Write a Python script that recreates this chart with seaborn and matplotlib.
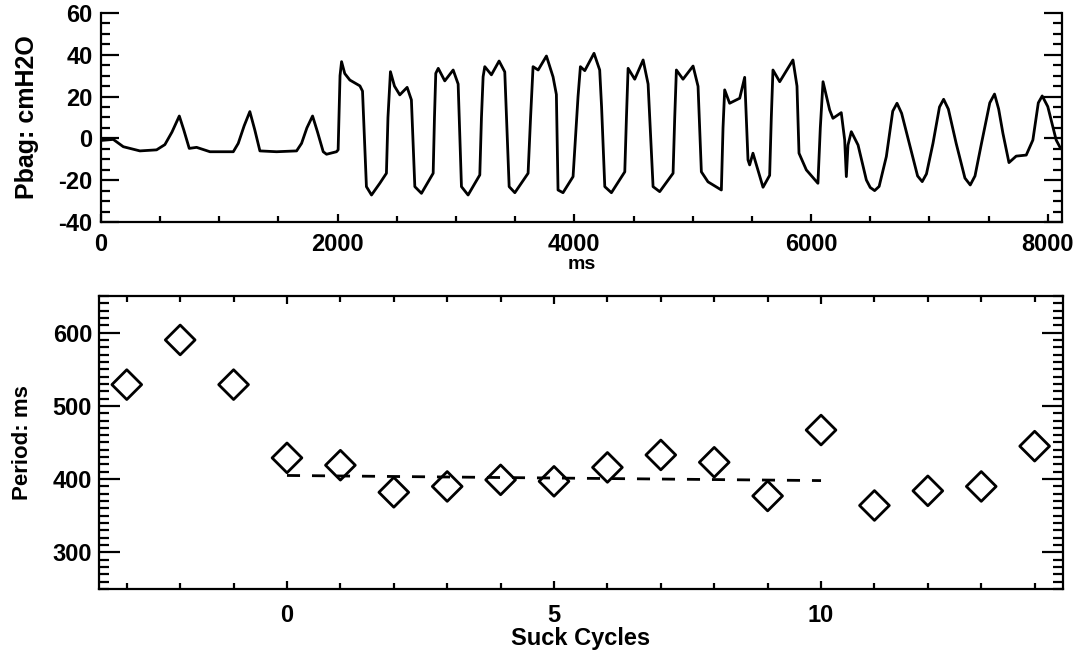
import matplotlib
matplotlib.use("Agg")
import matplotlib.pyplot as plt
import seaborn as sns
from matplotlib.ticker import MultipleLocator

# top panel: bag pressure trace (knots)
t_ms = [0, 104, 189, 329, 470, 540, 600, 662, 700, 746, 808, 921, 1118, 1160, 1210,
        1258, 1300, 1343, 1484, 1653, 1695, 1740, 1788, 1830, 1878, 1906, 1990,
        2004, 2020, 2033, 2060, 2103, 2188, 2210, 2243, 2286, 2356, 2412,
        2425, 2446, 2480, 2525, 2587, 2623, 2652, 2708, 2807,
        2818, 2829, 2850, 2905, 2976, 3018, 3046, 3102, 3201,
        3215, 3229, 3243, 3299, 3364, 3412, 3449, 3497, 3609,
        3630, 3651, 3694, 3764, 3820, 3848, 3862, 3904, 3989,
        4031, 4051, 4088, 4166, 4214, 4230, 4257, 4313, 4426,
        4440, 4454, 4510, 4581, 4623, 4665, 4721, 4834,
        4848, 4862, 4918, 5003, 5045, 5073, 5129, 5242,
        5256, 5270, 5312, 5397, 5439, 5467, 5481, 5509, 5594, 5650,
        5664, 5678, 5735, 5847, 5881, 5898, 5960, 6058,
        6078, 6101, 6157, 6185, 6255, 6284, 6298, 6312, 6340, 6397, 6467,
        6500, 6537, 6575, 6636, 6690, 6726, 6765, 6833, 6900, 6939, 6975,
        7030, 7085, 7120, 7160, 7226, 7300, 7345, 7385, 7437, 7510, 7550,
        7585, 7621, 7672, 7733, 7818, 7874, 7920, 7953, 8000, 8071, 8110]
p_cmh2o = [-1, -0.5, -4, -6, -5.5, -3, 3, 10.7, 4, -4.8, -4.3, -6.4, -6.4, -2.4, 6,
           12.8, 4, -6.0, -6.4, -6, -2.4, 5, 10.7, 3, -6.4, -7.6, -6.4,
           -5.5, 30, 36.7, 31, 27.9, 25.1, 22.6, -23.1, -27.1, -21.5, -16.7,
           10, 31.9, 25, 20.8, 24.4, 18.4, -23.1, -26.3, -16.7,
           10, 31.1, 33.5, 27.5, 32.7, 26, -23.1, -27.1, -17.5,
           10, 29.5, 34.3, 30.4, 37.0, 31.8, -23.1, -26, -16.7,
           10, 34.3, 32.7, 39.4, 29.4, 21, -24.7, -26, -18.3,
           20, 34.3, 32.4, 40.7, 32.7, 15, -23.1, -26, -16,
           10, 33.5, 28.3, 37.5, 26, -23.1, -25.5, -16.7,
           10, 32.7, 28.3, 34.6, 24.9, -16, -20.8, -24.7,
           5, 23.2, 16.8, 19.2, 29.2, -10.3, -12.7, -7.1, -23.4, -17.7,
           10, 32.7, 27.1, 37.5, 25, -7.1, -15.1, -21.5,
           5, 27.1, 13.6, 9.6, 12.3, -0.8, -18.3, -3.2, 3.2, -3.2, -19.9,
           -23.5, -25.0, -23, -8.7, 13, 16.8, 12, -3.2, -18, -20.7, -17,
           -2.4, 15, 18.7, 14, -2.4, -19, -22.3, -18, -3.2, 17, 21.2,
           14, 2.4, -11.6, -8.5, -8, -0.8, 17, 20.3, 15.2, -0.8, -5]

# bottom panel: period of each suck cycle
cycle = list(range(-3, 15))
period_ms = [529, 590, 529, 429, 419, 382, 390, 399, 397, 416, 433, 423,
             377, 467, 364, 384, 390, 445]

# dashed mean line over cycles 0..10
fit_cycle = [0, 10]
fit_period = [405, 398]

sns.set_style("ticks")
plt.rcParams["font.family"] = ["Liberation Sans", "DejaVu Sans"]
plt.rcParams["font.weight"] = "bold"
plt.rcParams["axes.labelweight"] = "bold"
plt.rcParams["axes.unicode_minus"] = False
plt.rcParams["axes.linewidth"] = 1.6
for key in ["text.color", "axes.labelcolor", "xtick.color", "ytick.color",
            "axes.edgecolor"]:
    plt.rcParams[key] = "black"

fig = plt.figure(figsize=(10.82, 6.54), dpi=100)
ax1 = fig.add_axes([0.0933, 0.6606, 0.8882, 0.3196])
ax2 = fig.add_axes([0.0915, 0.0994, 0.8909, 0.448])

# --- top: pressure trace ---
sns.lineplot(x=t_ms, y=p_cmh2o, ax=ax1, color="black", linewidth=2.0,
             estimator=None, sort=False)
ax1.set_xlim(0, 8120)
ax1.set_ylim(-40, 60)
ax1.spines["top"].set_visible(False)
ax1.xaxis.set_major_locator(MultipleLocator(2000))
ax1.xaxis.set_minor_locator(MultipleLocator(500))
ax1.yaxis.set_major_locator(MultipleLocator(20))
ax1.yaxis.set_minor_locator(MultipleLocator(5))
ax1.tick_params(axis="y", which="both", direction="in", left=True, right=True,
                width=1.6, labelsize=17, pad=6)
ax1.tick_params(axis="y", which="major", length=13)
ax1.tick_params(axis="y", which="minor", length=6.5)
ax1.tick_params(axis="x", which="both", direction="in", bottom=True, top=False,
                width=1.6, labelsize=17, pad=8)
ax1.tick_params(axis="x", which="major", length=6)
ax1.tick_params(axis="x", which="minor", length=4)
ax1.set_xlabel("ms", fontsize=14, labelpad=0)
ax1.set_ylabel("Pbag: cmH2O", fontsize=18, labelpad=14)

# --- bottom: periods ---
sns.lineplot(x=fit_cycle, y=fit_period, ax=ax2, color="black", linewidth=2.0,
             linestyle=(0, (4.7, 4.3)))
sns.scatterplot(x=cycle, y=period_ms, ax=ax2, marker="D", s=230,
                color="black", facecolor="none", edgecolor="black", linewidth=2.0)
ax2.set_xlim(-3.52, 14.53)
ax2.set_ylim(250, 650)
ax2.xaxis.set_major_locator(MultipleLocator(5))
ax2.xaxis.set_minor_locator(MultipleLocator(1))
ax2.yaxis.set_major_locator(MultipleLocator(100))
ax2.yaxis.set_minor_locator(MultipleLocator(10))
ax2.tick_params(axis="y", which="both", direction="in", left=True, right=True,
                width=1.6, labelsize=17, pad=5)
ax2.tick_params(axis="y", which="major", length=15)
ax2.tick_params(axis="y", which="minor", length=7)
ax2.tick_params(axis="x", which="both", direction="in", bottom=True, top=True,
                width=1.6, labelsize=17, pad=11)
ax2.tick_params(axis="x", which="major", length=6)
ax2.tick_params(axis="x", which="minor", length=4)
ax2.set_xlabel("Suck Cycles", fontsize=17, labelpad=0)
ax2.set_ylabel("Period: ms", fontsize=16, labelpad=14)

fig.savefig("out.png", dpi=100)
